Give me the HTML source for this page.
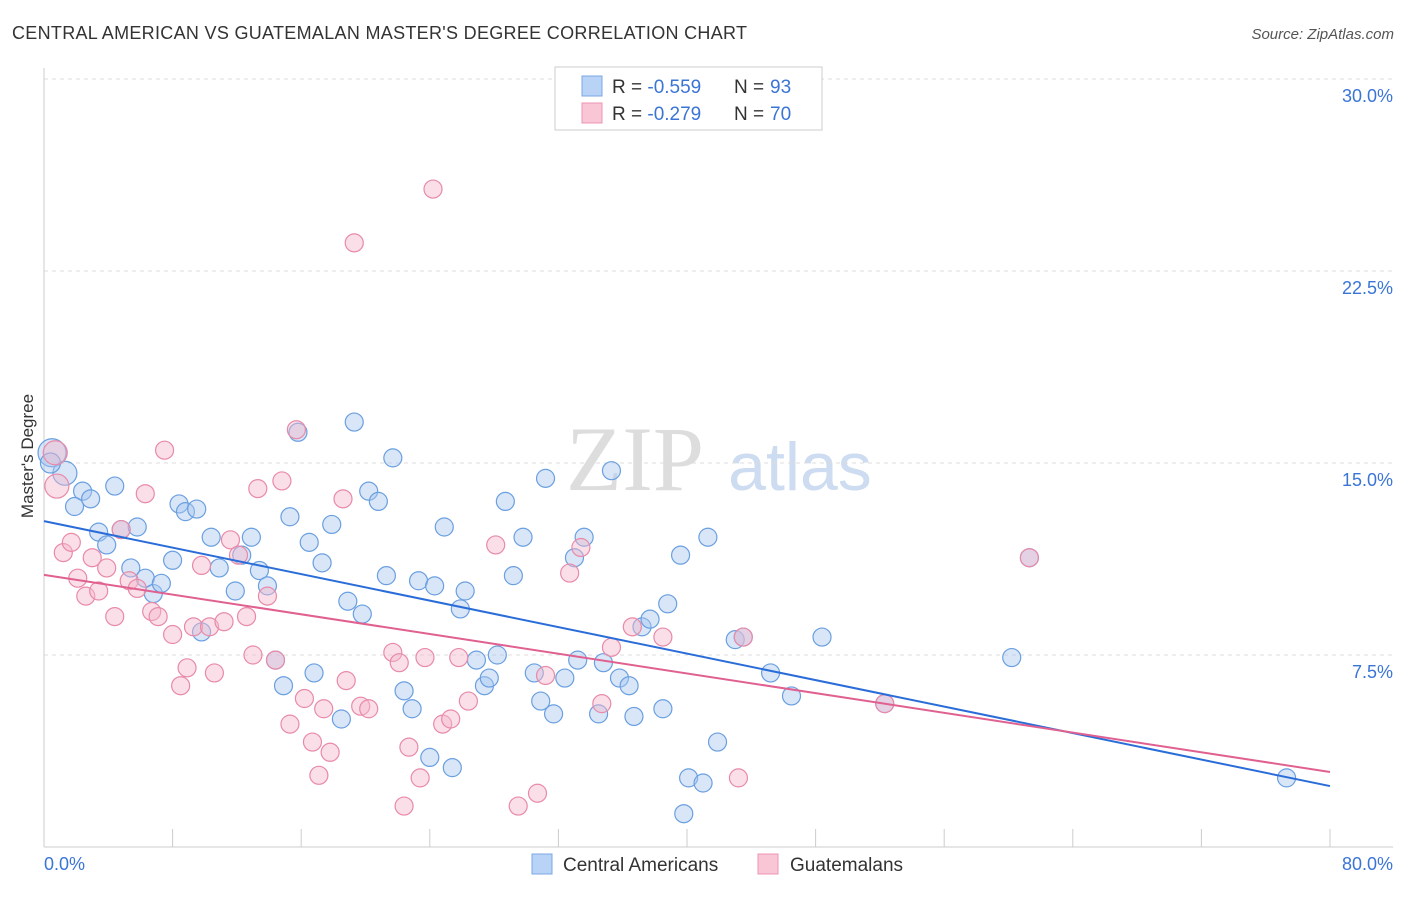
<!DOCTYPE html>
<html><head><meta charset="utf-8"><style>
body{margin:0;background:#fff;font-family:"Liberation Sans",sans-serif;}
</style></head><body>
<svg id="chart" width="1406" height="892" xmlns="http://www.w3.org/2000/svg" font-family="Liberation Sans, sans-serif">
<text x="12" y="39" font-size="18" fill="#333" textLength="735" lengthAdjust="spacing">CENTRAL AMERICAN VS GUATEMALAN MASTER'S DEGREE CORRELATION CHART</text>
<text x="1394" y="39" font-size="15" fill="#555" text-anchor="end" font-style="italic">Source: ZipAtlas.com</text>
<text transform="translate(33,456) rotate(-90)" font-size="17" fill="#333" text-anchor="middle">Master's Degree</text>
<g>
<text x="635" y="490" font-size="92" fill="#ddd" font-family="Liberation Serif, serif" text-anchor="middle">ZIP</text>
<text x="800" y="490" font-size="68" fill="#cddcf0" text-anchor="middle">atlas</text>
</g>
<g id="grid"></g><g id="axes"></g><g id="pts"></g><g id="lines"></g>
<g>
<rect x="555" y="67" width="267" height="63" fill="#fff" stroke="#ccc"/>
<rect x="582" y="76" width="20" height="20" fill="#b8d3f5" stroke="#7aa8e6"/>
<text x="612" y="93" font-size="19" fill="#333">R = <tspan fill="#3a75d6">-0.559</tspan><tspan x="734">N = </tspan><tspan x="770" fill="#3a75d6">93</tspan></text>
<rect x="582" y="103" width="20" height="20" fill="#f9c6d6" stroke="#ec94b2"/>
<text x="612" y="120" font-size="19" fill="#333">R = <tspan fill="#3a75d6">-0.279</tspan><tspan x="734">N = </tspan><tspan x="770" fill="#3a75d6">70</tspan></text>
</g>
<g>
<rect x="532" y="854" width="20" height="20" fill="#b8d3f5" stroke="#7aa8e6"/>
<text x="563" y="871" font-size="19" fill="#333">Central Americans</text>
<rect x="758" y="854" width="20" height="20" fill="#f9c6d6" stroke="#ec94b2"/>
<text x="790" y="871" font-size="19" fill="#333">Guatemalans</text>
</g>
</svg>
<script>
const blueX=[0.5,1.3,0.4,2.4,1.9,2.9,4.4,3.4,3.9,4.8,5.8,5.4,6.3,6.8,7.3,8.0,8.4,8.8,9.5,10.4,10.9,9.8,11.9,12.3,12.9,13.4,13.9,14.4,14.9,15.3,15.8,16.5,16.8,17.3,17.9,18.5,18.9,19.3,19.8,20.2,20.8,21.3,21.7,22.4,22.9,23.3,24.0,24.3,24.9,25.4,25.9,26.2,26.9,27.4,27.7,28.2,28.7,29.2,29.8,30.5,30.9,31.2,31.7,32.4,33.0,33.2,33.6,34.5,34.8,35.3,35.8,36.4,36.7,37.2,37.7,38.5,38.8,39.6,39.8,40.1,41.0,41.3,41.9,43.0,43.5,45.2,46.5,48.4,52.3,60.2,61.3,77.3];
const blueY=[15.4,14.6,15.0,13.9,13.3,13.6,14.1,12.3,11.8,12.4,12.5,10.9,10.5,9.9,10.3,11.2,13.4,13.1,13.2,12.1,10.9,8.4,10.0,11.4,12.1,10.8,10.2,7.3,6.3,12.9,16.2,11.9,6.8,11.1,12.6,5.0,9.6,16.6,9.1,13.9,13.5,10.6,15.2,6.1,5.4,10.4,3.5,10.2,12.5,3.1,9.3,10.0,7.3,6.3,6.6,7.5,13.5,10.6,12.1,6.8,5.7,14.4,5.2,6.6,11.3,7.3,12.1,5.2,7.2,14.7,6.6,6.3,5.1,8.6,8.9,5.4,9.5,11.4,1.3,2.7,2.5,12.1,4.1,8.1,8.2,6.8,5.9,8.2,5.6,7.4,11.3,2.7];
const pinkX=[0.7,0.8,1.2,1.7,2.1,2.6,3.0,3.4,3.9,4.4,4.8,5.3,5.8,6.3,6.7,7.1,7.5,8.0,8.5,8.9,9.3,9.8,10.3,10.6,11.2,11.6,12.1,12.6,13.0,13.3,13.9,14.4,14.8,15.3,15.7,16.2,16.7,17.1,17.4,17.8,18.6,18.8,19.3,19.7,20.2,21.7,22.1,22.4,22.7,23.4,23.7,24.2,24.8,25.3,25.8,26.4,28.1,29.5,30.7,31.2,32.7,33.4,34.7,35.3,36.6,38.5,43.5,43.2,52.3,61.3];
const pinkY=[15.4,14.1,11.5,11.9,10.5,9.8,11.3,10.0,10.9,9.0,12.4,10.4,10.1,13.8,9.2,9.0,15.5,8.3,6.3,7.0,8.6,11.0,8.6,6.8,8.8,12.0,11.4,9.0,7.5,14.0,9.8,7.3,14.3,4.8,16.3,5.8,4.1,2.8,5.4,3.7,13.6,6.5,23.6,5.5,5.4,7.6,7.2,1.6,3.9,2.7,7.4,25.7,4.8,5.0,7.4,5.7,11.8,1.6,2.1,6.7,10.7,11.7,5.6,7.8,8.6,8.2,8.2,2.7,5.6,11.3];
const trendBlue=[12.73,2.38];
const trendPink=[10.63,2.93];
const yTicks=[7.5,15,22.5,30];
const yTickLabels=["7.5%","15.0%","22.5%","30.0%"];
const xTicks=[0,8,16,24,32,40,48,56,64,72,80];
const xs=v=>44+v/80*1286, ys=v=>847-v/7.5*192;
const NS="http://www.w3.org/2000/svg";
function mk(p,t,a){const e=document.createElementNS(NS,t);for(const k in a)e.setAttribute(k,a[k]);document.getElementById(p).appendChild(e);return e;}
yTicks.forEach((v,i)=>{const l=mk('grid','line',{x1:44,x2:1393,y1:ys(v),y2:ys(v),stroke:'#ddd','stroke-dasharray':'4 4'});


const t=mk('axes','text',{x:1393,y:ys(v)+23,'font-size':18,fill:'#3a75d6','text-anchor':'end'});t.textContent=yTickLabels[i];

});
const ax=mk('axes','line',{x1:44,x2:44,y1:68,y2:847,stroke:'#ccc'});


const bx=mk('axes','line',{x1:44,x2:1393,y1:847,y2:847,stroke:'#ccc'});


xTicks.forEach(v=>{const l=mk('axes','line',{x1:xs(v),x2:xs(v),y1:829,y2:847,stroke:'#ccc'});

});
const x0=mk('axes','text',{x:44,y:870,'font-size':18,fill:'#3a75d6'});x0.textContent='0.0%';


const x1=mk('axes','text',{x:1393,y:870,'font-size':18,fill:'#3a75d6','text-anchor':'end'});x1.textContent='80.0%';


blueX.forEach((v,i)=>{const c=mk('pts','circle',{cx:xs(v),cy:ys(blueY[i]),r:i==0?14:(i==1?12:(i<3?10:9)),fill:'rgba(168,200,240,0.45)',stroke:'#6a9fe0','stroke-width':1.2});

});
pinkX.forEach((v,i)=>{const c=mk('pts','circle',{cx:xs(v),cy:ys(pinkY[i]),r:i<2?12:9,fill:'rgba(245,184,204,0.45)',stroke:'#e88aa8','stroke-width':1.2});

});
const lb=mk('lines','line',{x1:xs(0),y1:ys(trendBlue[0]),x2:xs(80),y2:ys(trendBlue[1]),stroke:'#2a6dd8','stroke-width':2});


const lp=mk('lines','line',{x1:xs(0),y1:ys(trendPink[0]),x2:xs(80),y2:ys(trendPink[1]),stroke:'#e06090','stroke-width':2});


</script>
</body></html>
